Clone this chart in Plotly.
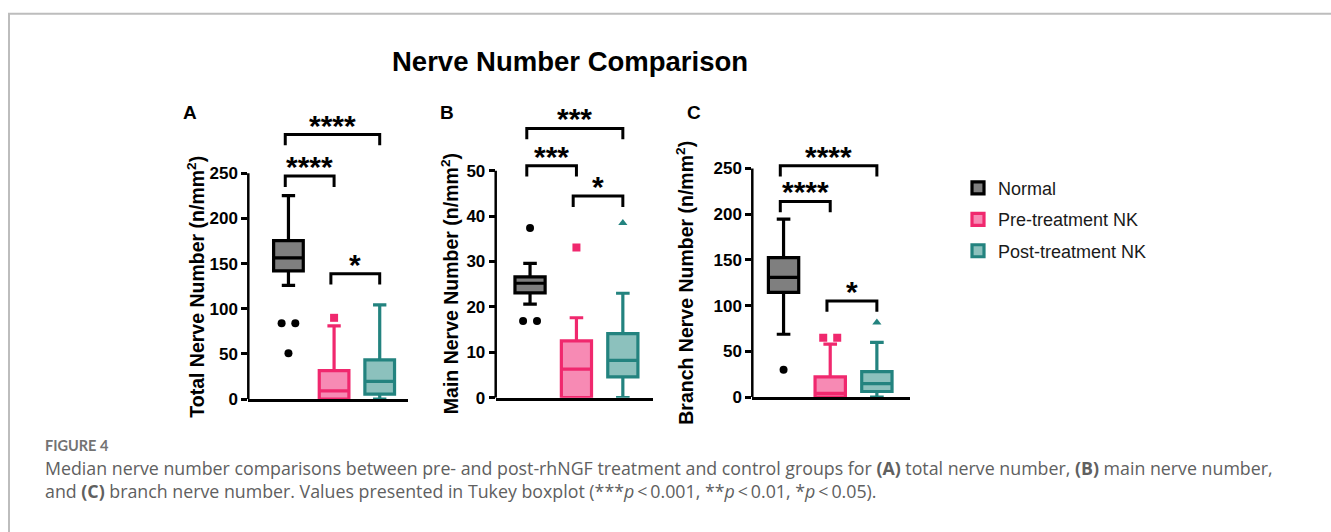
import plotly.graph_objects as go

W, H = 1331, 532

# ---------------- data ----------------
groups = ["Normal", "Pre-treatment NK", "Post-treatment NK"]
panel_letters = ["A", "B", "C"]
y_titles = ["Total Nerve Number (n/mm<sup>2</sup>)",
            "Main Nerve Number (n/mm<sup>2</sup>)",
            "Branch Nerve Number (n/mm<sup>2</sup>)"]
y_tickvals = [[0, 50, 100, 150, 200, 250],
              [0, 10, 20, 30, 40, 50],
              [0, 50, 100, 150, 200, 250]]

# Total nerve number (A)
total_lower = [126, 0, 0]
total_q1 = [142, 0, 5.4]
total_median = [156.5, 9, 19.6]
total_q3 = [175.4, 31.5, 43.5]
total_upper = [225.4, 81, 104.4]
total_outliers = [[84, 84, 50.7], [90], []]
total_brackets = [(0, 1, 247, "****"), (0, 2, 293, "****"), (1, 2, 138.8, "*")]

# Main nerve number (B)
main_lower = [20.6, 0, 0]
main_q1 = [23.1, 0, 4.6]
main_median = [25.2, 6.3, 8.2]
main_q3 = [26.6, 12.5, 14.1]
main_upper = [29.6, 17.6, 23.0]
main_outliers = [[37.4, 16.9, 16.9], [33.1], [38.5]]
main_brackets = [(0, 1, 51.1, "***"), (0, 2, 59.3, "***"), (1, 2, 44.4, "*")]

# Branch nerve number (C)
branch_lower = [68.7, 0, 0]
branch_q1 = [114.5, 0, 6.1]
branch_median = [130.9, 4, 14.7]
branch_q3 = [152.4, 22.2, 27.9]
branch_upper = [194.6, 58, 59.8]
branch_outliers = [[30], [64.8, 64.8], [81.6]]
branch_brackets = [(0, 1, 213.9, "****"), (0, 2, 252.9, "****"), (1, 2, 105.1, "*")]

caption_label = "FIGURE 4"
caption_lines = [
    "Median nerve number comparisons between pre- and post-rhNGF treatment and control groups for "
    "<b>(A)</b> total nerve number, <b>(B)</b> main nerve number,",
    "and <b>(C)</b> branch nerve number. Values presented in Tukey boxplot "
    "(***<i>p</i>\u2009&lt;\u20090.001, **<i>p</i>\u2009&lt;\u20090.01, *<i>p</i>\u2009&lt;\u20090.05).",
]

# ---------------- styles ----------------
line_colors = ["#000000", "#f0286e", "#23837f"]
fill_colors = ["#7f7f7f", "#f78ab4", "#8cc1bd"]
marker_symbols = ["circle", "square", "triangle-up"]
FONT = "Liberation Sans, Arial, Helvetica, sans-serif"

panels = [
    dict(lower=total_lower, q1=total_q1, med=total_median, q3=total_q3, upper=total_upper,
         out=total_outliers, br=total_brackets),
    dict(lower=main_lower, q1=main_q1, med=main_median, q3=main_q3, upper=main_upper,
         out=main_outliers, br=main_brackets),
    dict(lower=branch_lower, q1=branch_q1, med=branch_median, q3=branch_q3, upper=branch_upper,
         out=branch_outliers, br=branch_brackets),
]

# layout geometry (pixels)
ax_left_px = [248.3, 495.7, 752.3]
ax_right_px = [408, 653, 910]
x_ranges = [[-0.88, 2.62], [-0.74, 2.65], [-0.67, 2.71]]
zero_px = [406.7, 405.3, 404.7]
px_per_unit = [0.92, 4.627, 0.932]
top_px = 95
title_x_px = [196.5, 450, 685]
letter_x_px = [190, 447, 694]


def px_x(p):
    return p / W


def px_y(p):
    return 1 - p / H


fig = go.Figure()
shapes = []
annotations = []

for k, pdat in enumerate(panels):
    xa = "x" if k == 0 else f"x{k+1}"
    ya = "y" if k == 0 else f"y{k+1}"
    for g in range(3):
        fig.add_trace(go.Box(
            x=[g], q1=[pdat["q1"][g]], median=[pdat["med"][g]], q3=[pdat["q3"][g]],
            lowerfence=[pdat["lower"][g]], upperfence=[pdat["upper"][g]],
            orientation="v", width=0.65, whiskerwidth=0.45,
            fillcolor=fill_colors[g], line=dict(color=line_colors[g], width=3.2),
            name=groups[g], legendgroup=groups[g], showlegend=(k == 0),
            boxpoints=False, xaxis=xa, yaxis=ya,
        ))
        vals = pdat["out"][g]
        if vals:
            xs = []
            for i, v in enumerate(vals):
                same = [j for j, w in enumerate(vals) if w == v]
                n = len(same)
                idx = same.index(i)
                xs.append(g + (idx - (n - 1) / 2) * 0.3)
            fig.add_trace(go.Scatter(
                x=xs, y=vals, mode="markers",
                marker=dict(symbol=marker_symbols[g], size=8, color=line_colors[g]),
                showlegend=False, legendgroup=groups[g], xaxis=xa, yaxis=ya,
                hoverinfo="y",
            ))
    # brackets
    drop = 11 / px_per_unit[k]
    for (i, j, lvl, lab) in pdat["br"]:
        x0, x1 = i - 0.07, j
        shapes.append(dict(
            type="path", xref=xa, yref=ya,
            path=f"M {x0},{lvl - drop} L {x0},{lvl} L {x1},{lvl} L {x1},{lvl - drop}",
            line=dict(color="black", width=3),
        ))
        annotations.append(dict(
            x=(x0 + x1) / 2, y=lvl, xref=xa, yref=ya, text=lab, showarrow=False,
            xanchor="center", yanchor="bottom", yshift=-9,
            font=dict(family=FONT, size=30, color="black", weight="bold"),
        ))
    # y axis line (only up to top tick)
    shapes.append(dict(
        type="line", xref=f"{xa} domain", yref=ya, x0=0, x1=0,
        y0=0, y1=y_tickvals[k][-1], line=dict(color="black", width=2.5),
    ))
    # y axis title
    annotations.append(dict(
        x=px_x(title_x_px[k]), xref="paper", y=y_tickvals[k][-1] / 2, yref=ya,
        text=y_titles[k], textangle=-90, showarrow=False,
        xanchor="center", yanchor="middle",
        font=dict(family=FONT, size=19.5, color="black", weight="bold"),
    ))
    # panel letter
    annotations.append(dict(
        x=px_x(letter_x_px[k]), y=px_y(115), xref="paper", yref="paper",
        text=panel_letters[k], showarrow=False, xanchor="center", yanchor="middle",
        font=dict(family=FONT, size=19, color="black", weight="bold"),
    ))
    y_top = (zero_px[k] - top_px) / px_per_unit[k]
    fig.layout[("xaxis" if k == 0 else f"xaxis{k+1}")] = dict(
        domain=[px_x(ax_left_px[k]), px_x(ax_right_px[k])], range=x_ranges[k],
        showline=True, linecolor="black", linewidth=2.5, ticks="",
        showticklabels=False, showgrid=False, zeroline=False, anchor=ya,
    )
    fig.layout[("yaxis" if k == 0 else f"yaxis{k+1}")] = dict(
        domain=[px_y(zero_px[k]), px_y(top_px)], range=[0, y_top],
        showline=False, ticks="outside", ticklen=6, tickwidth=2.5, tickcolor="black",
        tickvals=y_tickvals[k], showgrid=False, zeroline=False, anchor=xa,
        tickfont=dict(family=FONT, size=17, color="black", weight="bold"),
    )

# title
annotations.append(dict(
    x=px_x(390), y=px_y(63), xref="paper", yref="paper", text="Nerve Number Comparison",
    showarrow=False, xanchor="left", yanchor="middle",
    font=dict(family=FONT, size=27.5, color="black", weight="bold"),
))

# caption
annotations.append(dict(
    x=px_x(43), y=px_y(454), xref="paper", yref="paper", text=caption_label,
    showarrow=False, xanchor="left", yanchor="middle",
    font=dict(family="Lato, Open Sans, sans-serif", size=14.5, color="#737373", weight="bold"),
))
annotations.append(dict(
    x=px_x(43), y=px_y(489), xref="paper", yref="paper",
    text="<br>".join(caption_lines), align="left",
    showarrow=False, xanchor="left", yanchor="middle",
    font=dict(family="Open Sans, Lato, sans-serif", size=17.8, color="#606060"),
))

# border of the figure frame
shapes.append(dict(
    type="rect", xref="paper", yref="paper",
    x0=px_x(9), x1=1.05, y0=-0.05, y1=px_y(14),
    line=dict(color="#bdbdbd", width=2), fillcolor="rgba(0,0,0,0)", layer="below",
))

fig.update_layout(
    width=W, height=H, autosize=False,
    margin=dict(l=0, r=0, t=0, b=0, pad=0),
    paper_bgcolor="white", plot_bgcolor="white",
    shapes=shapes, annotations=annotations,
    showlegend=True,
    legend=dict(
        x=px_x(958), y=px_y(173), xanchor="left", yanchor="top",
        font=dict(family=FONT, size=18, color="#1a1a1a"),
        bgcolor="rgba(0,0,0,0)", tracegroupgap=5,
    ),
)

fig.write_html("out.html")
